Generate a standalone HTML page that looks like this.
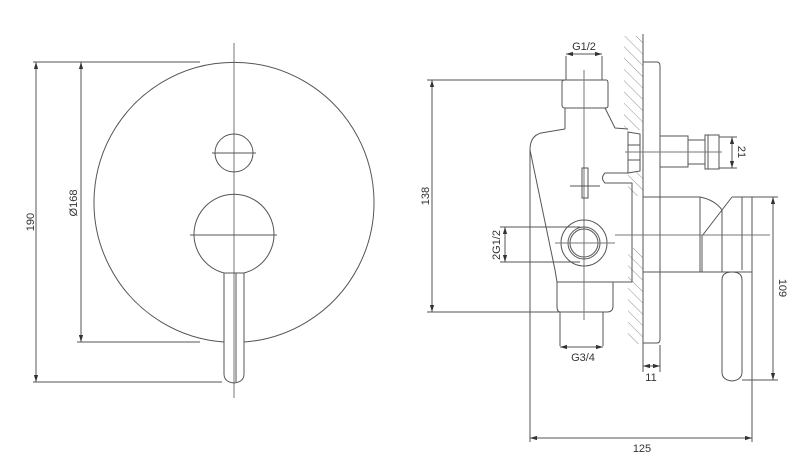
<!DOCTYPE html>
<html><head><meta charset="utf-8"><style>
html,body{margin:0;padding:0;background:#fff;}
svg{display:block;}
text{font-family:"Liberation Sans",sans-serif;font-size:11px;fill:#333;}
</style></head><body>
<svg width="800" height="476" viewBox="0 0 800 476" xmlns="http://www.w3.org/2000/svg">
<defs>
<marker id="a" viewBox="0 0 10 10" refX="10" refY="5" markerWidth="7" markerHeight="7" orient="auto-start-reverse"><path d="M0,2 L10,5 L0,8 z" fill="#333"/></marker>
<pattern id="h" width="8" height="8" patternUnits="userSpaceOnUse" patternTransform="rotate(-45)"><line x1="0" y1="0" x2="0" y2="8" stroke="#777" stroke-width="0.8"/></pattern>
</defs>
<g fill="none" stroke="#555" stroke-width="1">
<line x1="234" y1="43" x2="234" y2="398" stroke="#777"/>
<path d="M224,342 A140,140 0 1 1 244,342"/>
<circle cx="234" cy="153" r="19"/>
<line x1="212" y1="153" x2="256" y2="153"/>
<path d="M224,273 A40,40 0 1 1 244,273"/>
<line x1="190" y1="235" x2="277" y2="235"/>
<path d="M224,273 L224,374 Q224,382 234,383 Q244,382 244,374 L244,273 Z"/>
<line x1="236" y1="273" x2="236" y2="382"/>
<line x1="33" y1="62" x2="200" y2="62"/>
<line x1="33" y1="382" x2="222" y2="382"/>
<line x1="77" y1="342" x2="200" y2="342"/>
<line x1="36" y1="62" x2="36" y2="382" marker-start="url(#a)" marker-end="url(#a)"/>
<line x1="81" y1="62" x2="81" y2="342" marker-start="url(#a)" marker-end="url(#a)"/>

<rect x="624" y="36" width="19" height="94" fill="url(#h)" stroke="none"/>
<rect x="628" y="172" width="15" height="24" fill="url(#h)" stroke="none"/>
<rect x="628" y="248" width="15" height="96" fill="url(#h)" stroke="none"/>
<line x1="643" y1="34" x2="643" y2="345"/>
<path d="M643,62 L657,62 Q660,62 660,66 L660,339 Q660,343 657,343 L643,343"/>
<path d="M562,82 Q562,80 565,80 L606,80 Q608,80 608,83 L608,106 Q608,108 605,108 L565,108 Q562,108 562,105 Z"/>
<path d="M565,108 L565,129 M605,108 L615,128 L628,129"/>
<path d="M565,129 L541,133 Q530,136 530,150 L555,270 L557,282"/>
<path d="M628,132 L640,134 L640,171 L628,173 Z"/>
<line x1="628" y1="145" x2="640" y2="145"/><line x1="628" y1="160" x2="640" y2="160"/>
<path d="M628,173 L605,173 Q600,178 605,183 L632,183 L632,282 L613,282"/>
<path d="M557,282 L613,282 L613,306 Q613,312 607,312 L560,312 Q557,312 557,306 Z"/>
<line x1="560" y1="312" x2="560" y2="346"/><line x1="603" y1="312" x2="603" y2="346"/>
<line x1="566" y1="56" x2="566" y2="80"/><line x1="602" y1="56" x2="602" y2="80"/>
<line x1="584" y1="70" x2="584" y2="320" stroke="#777"/>
<rect x="582" y="168" width="6" height="30"/>
<line x1="570" y1="186" x2="600" y2="186"/>
<circle cx="584" cy="243" r="23"/>
<circle cx="584" cy="243" r="16"/>
<circle cx="584" cy="243" r="14"/>
<line x1="555" y1="243" x2="615" y2="243" stroke="#777"/>
<rect x="660" y="136" width="28" height="31"/>
<rect x="688" y="140" width="17" height="24"/>
<rect x="705" y="135" width="14" height="34"/>
<line x1="708" y1="135" x2="708" y2="169"/>
<line x1="625" y1="152" x2="722" y2="152" stroke="#777"/>
<path d="M643,197 L700,197 Q715,200 722,210 L722,272 L700,272 L643,272"/>
<line x1="700" y1="197" x2="700" y2="272"/>
<path d="M732,197 L752,197 L752,272 L702,272 L702,236 L722,210 L732,197"/>
<line x1="742" y1="197" x2="742" y2="270"/>
<line x1="615" y1="235" x2="770" y2="235" stroke="#777"/>
<path d="M722,280 Q722,272 732,272 Q742,272 742,280 L742,372 Q742,380 732,381 Q722,380 722,372 Z"/>
<line x1="427" y1="80" x2="570" y2="80"/>
<line x1="427" y1="312" x2="560" y2="312"/>
<line x1="432" y1="80" x2="432" y2="312" marker-start="url(#a)" marker-end="url(#a)"/>
<line x1="566" y1="54" x2="602" y2="54" marker-start="url(#a)" marker-end="url(#a)"/>
<line x1="560" y1="347" x2="603" y2="347" marker-start="url(#a)" marker-end="url(#a)"/>
<line x1="500" y1="227" x2="580" y2="227"/>
<line x1="500" y1="262" x2="580" y2="262"/>
<line x1="505" y1="227" x2="505" y2="262" marker-start="url(#a)" marker-end="url(#a)"/>
<line x1="719" y1="137" x2="737" y2="137"/>
<line x1="719" y1="168" x2="737" y2="168"/>
<line x1="732" y1="137" x2="732" y2="168" marker-start="url(#a)" marker-end="url(#a)"/>
<line x1="752" y1="197" x2="778" y2="197"/>
<line x1="742" y1="380" x2="778" y2="380"/>
<line x1="773" y1="197" x2="773" y2="380" marker-start="url(#a)" marker-end="url(#a)"/>
<line x1="643" y1="345" x2="643" y2="372"/><line x1="660" y1="345" x2="660" y2="372"/>
<line x1="643" y1="366" x2="660" y2="366" marker-start="url(#a)" marker-end="url(#a)"/>
<line x1="530" y1="150" x2="530" y2="442"/>
<line x1="752" y1="272" x2="752" y2="442"/>
<line x1="530" y1="438" x2="752" y2="438" marker-start="url(#a)" marker-end="url(#a)"/>
</g>
<text x="34" y="222" transform="rotate(-90 34 222)" text-anchor="middle">190</text>
<text x="77" y="203" transform="rotate(-90 77 203)" text-anchor="middle">Ø168</text>
<text x="429" y="196" transform="rotate(-90 429 196)" text-anchor="middle">138</text>
<text x="500" y="245" transform="rotate(-90 500 245)" text-anchor="middle">2G1/2</text>
<text x="584" y="50" text-anchor="middle">G1/2</text>
<text x="583" y="361" text-anchor="middle">G3/4</text>
<text x="651" y="381" text-anchor="middle">11</text>
<text x="642" y="452" text-anchor="middle">125</text>
<text x="738" y="152" transform="rotate(90 738 152)" text-anchor="middle">21</text>
<text x="779" y="288" transform="rotate(90 779 288)" text-anchor="middle">109</text>
</svg>
</body></html>
